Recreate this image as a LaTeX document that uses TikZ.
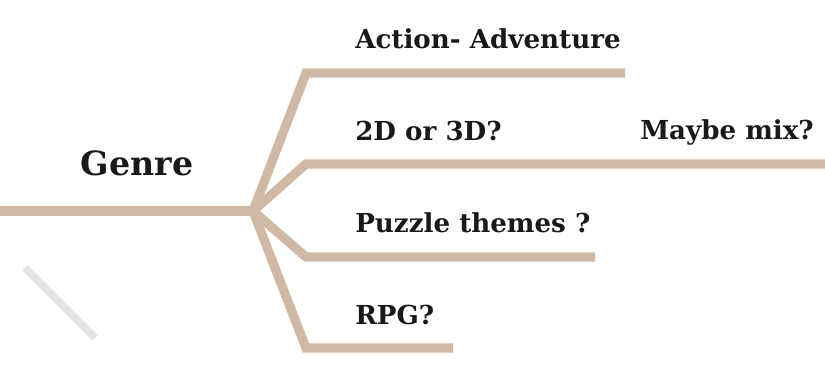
\documentclass[tikz,border=0pt]{standalone}
\usepackage{fontspec}
\setmainfont{DejaVu Serif}
\definecolor{tan}{HTML}{CFB9A5}
\definecolor{lightgrey}{HTML}{E4E4E4}

\begin{document}
\begin{tikzpicture}[x=0.75pt,y=-0.75pt,
  branch/.style={draw=tan,line width=6.9pt,line join=miter},
  label/.style={anchor=base west,inner sep=0pt,font=\bfseries\fontsize{19.6}{20}\selectfont,text=black!90}]
\useasboundingbox (0,0) rectangle (825,386);

\coordinate (start) at (0,211);
\coordinate (hub) at (253,211);
\coordinate (c1) at (306,73);
\coordinate (c2) at (306,164);
\coordinate (c3) at (306,257);
\coordinate (c4) at (306,348);
\coordinate (e1) at (625,73);
\coordinate (e2) at (825,164);
\coordinate (e3) at (595,257);
\coordinate (e4) at (453,348);

\node[anchor=base,inner sep=0pt,font=\bfseries\fontsize{25}{25}\selectfont,text=black!90] at (137,175) (genre) {Genre};
\node[label] at (355,48) (action) {Action- Adventure};
\node[label] at (355,140) (dim) {2D or 3D?};
\node[label] at (640,139) (mix) {Maybe mix?};
\node[label] at (355,232) (puzzle) {Puzzle themes ?};
\node[label] at (355,324) (rpg) {RPG?};

\draw[branch] (start) -- (hub);
\draw[branch] (hub) -- (c1) -- (e1);
\draw[branch] (hub) -- (c2) -- (e2);
\draw[branch] (hub) -- (c3) -- (e3);
\draw[branch] (hub) -- (c4) -- (e4);
\draw[draw=lightgrey,line width=5.5pt] (25,268) -- (95,338);
\end{tikzpicture}
\end{document}
